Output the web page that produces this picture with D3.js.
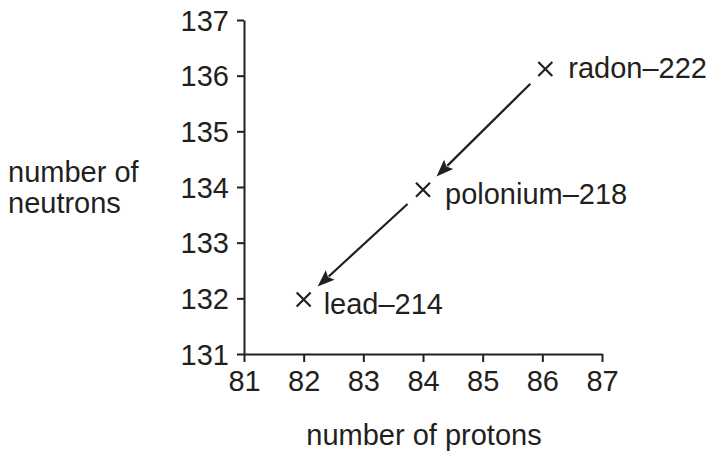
<!DOCTYPE html>
<html>
<head>
<meta charset="utf-8">
<script src="https://cdn.jsdelivr.net/npm/d3@7/dist/d3.min.js"></script>
<style>
	body { margin: 0; background: #fff; }
	svg text { font-family: "Liberation Sans", Arial, sans-serif; fill: #231f20; }
</style>
</head>
<body>
<div id="chart"></div>
<script>
	// nuclides
	var names = ["radon–222", "polonium–218", "lead–214"];
	var protons = [86.05, 84, 82];
	var neutrons = [136.12, 133.95, 131.98];
	var xTicks = [81, 82, 83, 84, 85, 86, 87];
	var yTicks = [131, 132, 133, 134, 135, 136, 137];
	// decay arrows, as index pairs into the nuclides
	var decays = [[0, 1], [1, 2]];

	var ink = "#231f20";
	var fontSize = "29px";
	var width = 710, height = 455;

	var svg = d3.select("#chart").append("svg")
		.attr("width", width)
		.attr("height", height);

	var x = d3.scaleLinear().domain([81, 87]).range([244, 602]);
	var y = d3.scaleLinear().domain([131, 137]).range([354, 20]);

	var xAxis = svg.append("g")
		.attr("transform", "translate(0," + y(131) + ")")
		.call(d3.axisBottom(x).tickValues(xTicks).tickSizeInner(8).tickSizeOuter(0).tickPadding(8).tickFormat(d3.format("d")));
	var yAxis = svg.append("g")
		.attr("transform", "translate(" + x(81) + ",0)")
		.call(d3.axisLeft(y).tickValues(yTicks).tickSizeInner(7).tickSizeOuter(0).tickPadding(8).tickFormat(d3.format("d")));

	[xAxis, yAxis].forEach(function(g) {
		g.selectAll("path, line").attr("stroke", ink).attr("stroke-width", 2);
		g.selectAll("text").style("font-size", fontSize).attr("fill", ink)
			.style("font-family", "'Liberation Sans', Arial, sans-serif");
	});
	yAxis.selectAll("text").attr("dy", "0.35em");
	xAxis.selectAll("text").attr("dy", "0.74em");

	// axis titles
	svg.append("text")
		.attr("x", 424).attr("y", 445)
		.attr("text-anchor", "middle")
		.style("font-size", fontSize)
		.text("number of protons");
	var yt = svg.append("text")
		.style("font-size", fontSize);
	yt.append("tspan").attr("x", 8).attr("y", 182).text("number of");
	yt.append("tspan").attr("x", 8).attr("y", 213).text("neutrons");

	// crosses
	var pts = names.map(function(n, i) { return {name: n, px: x(protons[i]), py: y(neutrons[i])}; });
	var s = 7;
	svg.selectAll(".cross").data(pts).enter().append("path")
		.attr("class", "cross")
		.attr("d", function(d) {
			return "M" + (d.px - s) + "," + (d.py - s) + "L" + (d.px + s) + "," + (d.py + s) +
				"M" + (d.px - s) + "," + (d.py + s) + "L" + (d.px + s) + "," + (d.py - s);
		})
		.attr("stroke", ink).attr("stroke-width", 2.2).attr("fill", "none");

	// labels beside each cross
	var labelOffsets = [[23, 9], [22, 14], [20, 15]];
	svg.selectAll(".lbl").data(pts).enter().append("text")
		.attr("class", "lbl")
		.attr("x", function(d, i) { return d.px + labelOffsets[i][0]; })
		.attr("y", function(d, i) { return d.py + labelOffsets[i][1]; })
		.style("font-size", fontSize)
		.text(function(d) { return d.name; });

	// decay arrows
	var gapStart = 21, gapEnd = 19, headLen = 17, headHalf = 6.5;
	decays.forEach(function(pair) {
		var a = pts[pair[0]], b = pts[pair[1]];
		var dx = b.px - a.px, dy = b.py - a.py;
		var len = Math.sqrt(dx * dx + dy * dy);
		var ux = dx / len, uy = dy / len;
		var sx = a.px + ux * gapStart, sy = a.py + uy * gapStart;
		var tx = b.px - ux * gapEnd, ty = b.py - uy * gapEnd;
		var bx = tx - ux * headLen, by = ty - uy * headLen;
		svg.append("line")
			.attr("x1", sx).attr("y1", sy).attr("x2", bx + ux * 2).attr("y2", by + uy * 2)
			.attr("stroke", ink).attr("stroke-width", 2.2);
		svg.append("path")
			.attr("d", "M" + tx + "," + ty +
				"L" + (bx - uy * headHalf) + "," + (by + ux * headHalf) +
				"L" + (bx + ux * 3) + "," + (by + uy * 3) +
				"L" + (bx + uy * headHalf) + "," + (by - ux * headHalf) + "Z")
			.attr("fill", ink);
	});
</script>
</body>
</html>
